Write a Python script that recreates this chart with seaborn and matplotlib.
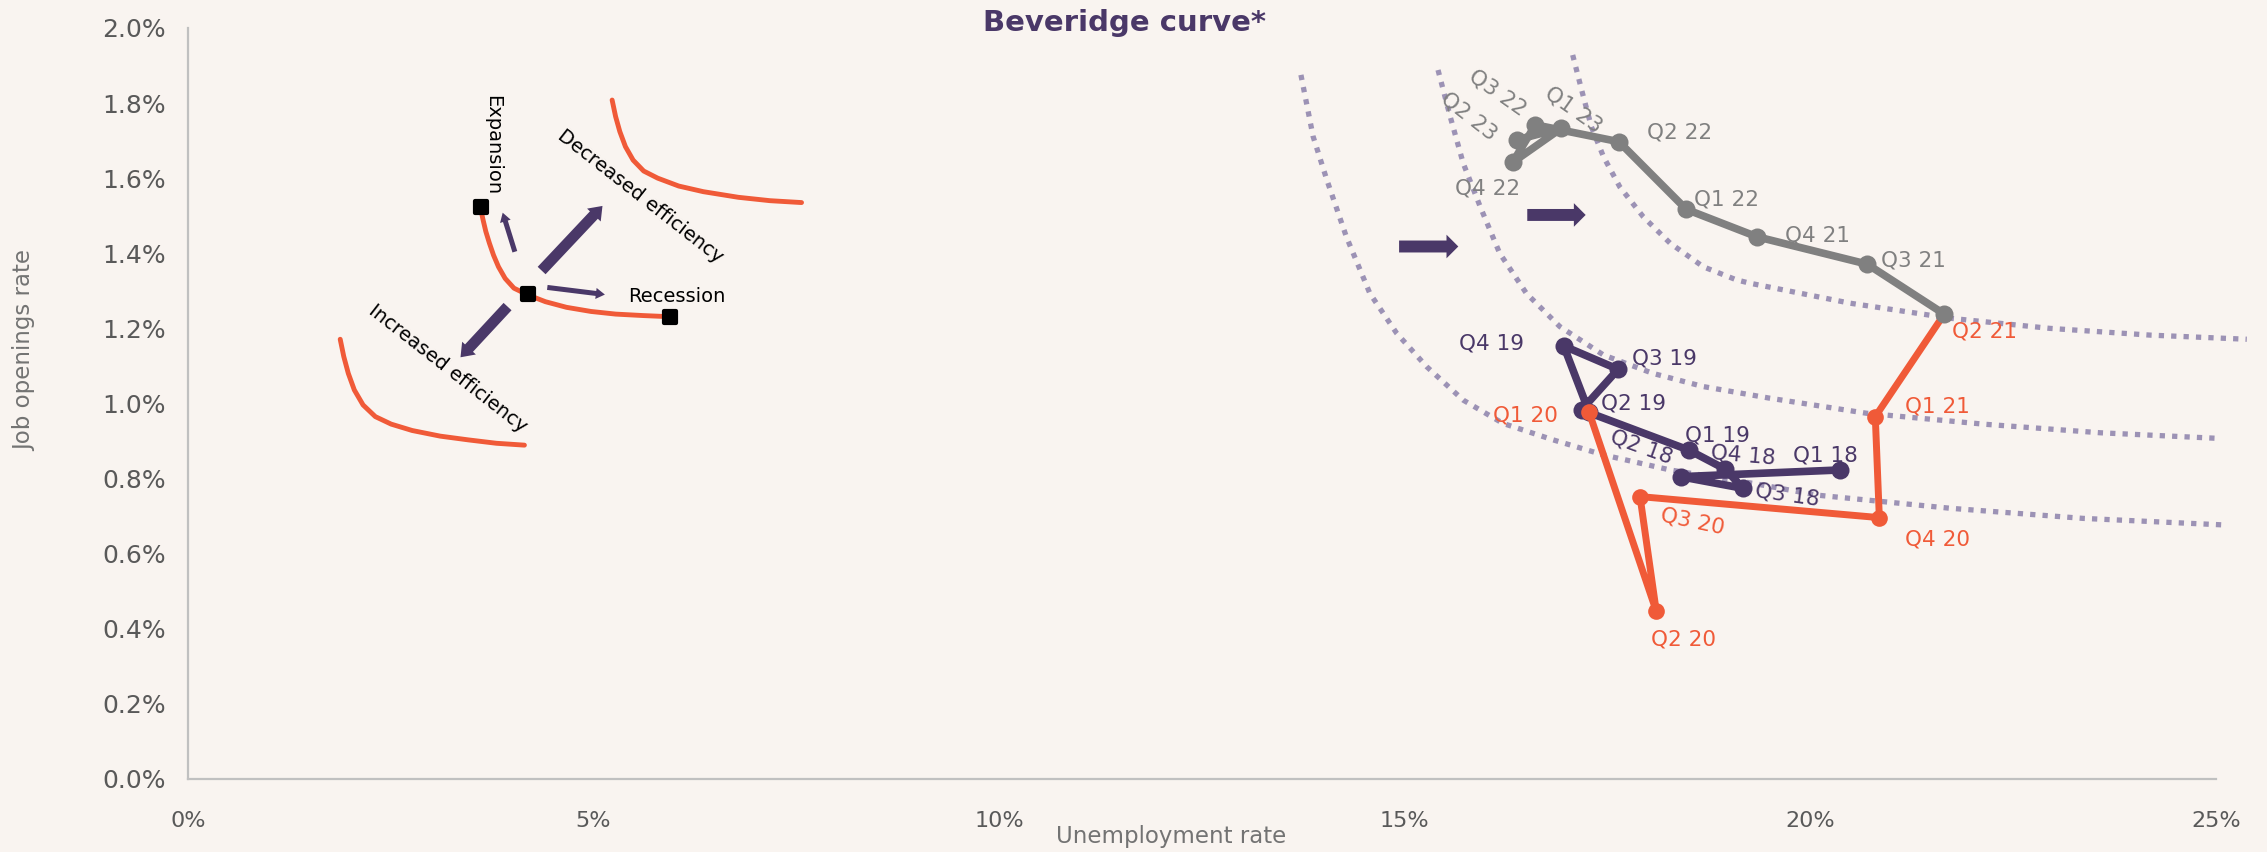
import matplotlib
matplotlib.use("Agg")
import matplotlib.pyplot as plt
from matplotlib.markers import MarkerStyle
from matplotlib.ticker import FuncFormatter, MultipleLocator
import seaborn as sns

# Beveridge curve path: unemployment rate (%) vs job openings rate (%)
pre_quarters = ["Q1 18", "Q2 18", "Q3 18", "Q4 18", "Q1 19", "Q2 19", "Q3 19", "Q4 19", "Q1 20"]
pre_unemp = [20.37, 18.40, 19.17, 18.95, 18.50, 17.18, 17.63, 16.96, 17.27]
pre_vac = [0.823, 0.805, 0.774, 0.825, 0.876, 0.983, 1.091, 1.153, 0.978]

covid_quarters = ["Q1 20", "Q2 20", "Q3 20", "Q4 20", "Q1 21", "Q2 21"]
covid_unemp = [17.27, 18.10, 17.90, 20.85, 20.80, 21.65]
covid_vac = [0.978, 0.447, 0.752, 0.696, 0.965, 1.238]

post_quarters = ["Q2 21", "Q3 21", "Q4 21", "Q1 22", "Q2 22", "Q3 22", "Q4 22", "Q1 23", "Q2 23"]
post_unemp = [21.65, 20.70, 19.34, 18.47, 17.64, 16.61, 16.33, 16.93, 16.38]
post_vac = [1.238, 1.371, 1.444, 1.517, 1.697, 1.742, 1.642, 1.733, 1.702]

# dotted reference curves
curve1_x = [13.72, 13.87, 14.04, 14.28, 14.57, 14.90, 15.27, 15.72, 16.21, 16.83, 17.45, 18.27, 19.30, 20.08, 21.72, 23.36, 25.15]
curve1_y = [1.875, 1.711, 1.595, 1.444, 1.293, 1.187, 1.098, 1.009, 0.947, 0.903, 0.863, 0.823, 0.787, 0.756, 0.721, 0.694, 0.676]
curve2_x = [15.41, 15.56, 15.72, 15.93, 16.17, 16.50, 16.91, 17.45, 18.06, 18.68, 19.50, 20.69, 22.13, 23.57, 25.03]
curve2_y = [1.888, 1.764, 1.640, 1.524, 1.400, 1.293, 1.205, 1.129, 1.080, 1.045, 1.014, 0.974, 0.945, 0.922, 0.907]
curve3_x = [17.07, 17.18, 17.30, 17.45, 17.65, 17.94, 18.27, 18.68, 19.09, 19.26, 20.49, 21.72, 22.95, 24.19, 25.38]
curve3_y = [1.928, 1.835, 1.737, 1.657, 1.577, 1.497, 1.427, 1.364, 1.329, 1.320, 1.267, 1.227, 1.200, 1.182, 1.171]

# schematic on the left
mid_x = [3.607, 3.638, 3.672, 3.716, 3.767, 3.828, 3.910, 4.019, 4.191, 4.407, 4.667, 4.969, 5.272, 5.618, 5.942]
mid_y = [1.520, 1.489, 1.458, 1.427, 1.395, 1.364, 1.333, 1.307, 1.289, 1.271, 1.256, 1.245, 1.238, 1.234, 1.231]
upper_x = [5.229, 5.272, 5.324, 5.393, 5.488, 5.618, 5.791, 6.050, 6.353, 6.785, 7.175, 7.564]
upper_y = [1.808, 1.764, 1.724, 1.684, 1.648, 1.619, 1.600, 1.579, 1.564, 1.549, 1.540, 1.535]
lower_x = [1.877, 1.921, 1.977, 2.051, 2.159, 2.310, 2.505, 2.764, 3.110, 3.457, 3.802, 4.148]
lower_y = [1.171, 1.125, 1.080, 1.036, 0.996, 0.965, 0.945, 0.928, 0.913, 0.903, 0.894, 0.889]
dot_x = [3.61, 4.19, 5.94]
dot_y = [1.522, 1.291, 1.231]

# arrows: (tail x, tail y, tip x, tip y)
shift_arrows = [(14.93, 1.418, 15.66, 1.418), (16.51, 1.502, 17.23, 1.502)]
thin_arrows = [(4.03, 1.404, 3.88, 1.508), (4.43, 1.309, 5.14, 1.290)]
thick_arrows = [(4.36, 1.354, 5.11, 1.526), (3.94, 1.258, 3.36, 1.123)]

schema_texts = ["Expansion", "Decreased efficiency", "Recession", "Increased efficiency"]
schema_text_x = [3.75, 5.58, 6.03, 3.20]
schema_text_y = [1.688, 1.551, 1.284, 1.094]
schema_text_rot = [-90, -38, 0, -38]

# label offsets in points: (dx, dy, rotation)
label_offsets = {
    "Q1 18": (-10.6, 10.3, 0), "Q2 18": (-28, 21, -20), "Q3 18": (32, -4.8, -8),
    "Q4 18": (13, 9.6, -5), "Q1 19": (20.4, 10.8, 0), "Q2 19": (37, 4.8, 0),
    "Q3 19": (33.6, 7.9, 0), "Q4 19": (-52, 1.9, 0),
    "Q1 20": (-45.9, -2.4, 0), "Q2 20": (19.7, -20.4, 0), "Q3 20": (38, -18, -12),
    "Q4 20": (41.8, -15.6, 0), "Q1 21": (44.6, 7.2, 0), "Q2 21": (28.8, -12.7, 0),
    "Q3 21": (33.6, 2.9, 0), "Q4 21": (43.5, 1.2, 0), "Q1 22": (29.2, 7.2, 0),
    "Q2 22": (43.9, 6.5, 0), "Q3 22": (-27.6, 22.8, -35), "Q4 22": (-18.3, -18.7, 0),
    "Q1 23": (8.4, 13.2, -35), "Q2 23": (-34.8, 16.8, -38),
}

bg = "#f9f4f0"
purple = "#4a3868"
orange = "#f05a38"
grey = "#808080"
dotted = "#9c92b5"

sns.set_theme(style="white")
plt.rcParams["font.family"] = ["DejaVu Sans"]

fig = plt.figure(figsize=(22.67, 8.52), dpi=100, facecolor=bg)
ax = fig.add_axes([0.0829, 0.0857, 0.8946, 0.8815], facecolor=bg)

for cx, cy in [(curve1_x, curve1_y), (curve2_x, curve2_y), (curve3_x, curve3_y)]:
    sns.lineplot(x=cx, y=cy, sort=False, estimator=None, color=dotted, lw=3.8,
                 dashes=False, ax=ax, clip_on=False)
for line in ax.get_lines():
    line.set_dashes([1, 1.35])
    line.set_dash_capstyle("butt")
    line.set_solid_joinstyle("round")

sns.lineplot(x=pre_unemp, y=pre_vac, sort=False, estimator=None, color=purple, lw=5.5,
             marker="o", markersize=13, markeredgewidth=0, ax=ax)
sns.lineplot(x=covid_unemp, y=covid_vac, sort=False, estimator=None, color=orange, lw=5,
             marker="o", markersize=12, markeredgewidth=0, ax=ax)
sns.lineplot(x=post_unemp, y=post_vac, sort=False, estimator=None, color=grey, lw=5.5,
             marker="o", markersize=13, markeredgewidth=0, ax=ax)

def put_labels(quarters, xs, ys, color, skip=()):
    for q, x, y in zip(quarters, xs, ys):
        if q in skip:
            continue
        dx, dy, rot = label_offsets[q]
        ax.annotate(q, (x, y), xytext=(dx, dy), textcoords="offset points",
                    ha="center", va="center", rotation=rot, rotation_mode="anchor",
                    fontsize=15.5, color=color)

put_labels(pre_quarters, pre_unemp, pre_vac, purple, skip=("Q1 20",))
put_labels(covid_quarters, covid_unemp, covid_vac, orange)
put_labels(post_quarters, post_unemp, post_vac, grey, skip=("Q2 21",))

# schematic
for cx, cy in [(mid_x, mid_y), (upper_x, upper_y), (lower_x, lower_y)]:
    sns.lineplot(x=cx, y=cy, sort=False, estimator=None, color=orange, lw=3.5, ax=ax)
ax.plot(dot_x, dot_y, linestyle="none", marker=MarkerStyle("s", joinstyle="round"),
        markersize=8, markerfacecolor="black", markeredgecolor="black", markeredgewidth=3)

def draw_arrows(arrows, style):
    for x0, y0, x1, y1 in arrows:
        ax.annotate("", xy=(x1, y1), xytext=(x0, y0),
                    arrowprops=dict(arrowstyle=style, color=purple, lw=0,
                                    mutation_scale=1, shrinkA=0, shrinkB=0))

draw_arrows(shift_arrows, "simple,head_length=8.5,head_width=17,tail_width=8.6")
draw_arrows(thin_arrows, "simple,head_length=6.5,head_width=8,tail_width=3.6")
draw_arrows(thick_arrows, "simple,head_length=9,head_width=13.5,tail_width=7.8")

for t, x, y, r in zip(schema_texts, schema_text_x, schema_text_y, schema_text_rot):
    ax.text(x, y, t, ha="center", va="center", rotation=r, rotation_mode="anchor",
            fontsize=14, color="black")

# axes styling
ax.set_xlim(0, 25)
ax.set_ylim(0, 2.0)
ax.xaxis.set_major_locator(MultipleLocator(5))
ax.yaxis.set_major_locator(MultipleLocator(0.2))
ax.xaxis.set_major_formatter(FuncFormatter(lambda v, p: f"{v:.0f}%"))
ax.yaxis.set_major_formatter(FuncFormatter(lambda v, p: f"{v:.1f}%"))
ax.tick_params(axis="x", length=0, pad=23, labelsize=16, labelcolor="#595959")
ax.tick_params(axis="y", length=0, pad=16, labelsize=18, labelcolor="#595959")
for side in ["top", "right"]:
    ax.spines[side].set_visible(False)
for side in ["left", "bottom"]:
    ax.spines[side].set_color("#c0c0c0")
    ax.spines[side].set_linewidth(1.6)

ax.set_xlabel("Unemployment rate", fontsize=16.5, color="#737373")
ax.set_ylabel("Job openings rate", fontsize=16.5, color="#737373")
ax.xaxis.set_label_coords(0.485, -0.061)
ax.yaxis.set_label_coords(-0.075, 0.571)

fig.text(0.496, 0.973, "Beveridge curve*", ha="center", va="center",
         fontsize=21, fontweight="bold", color=purple)

fig.savefig("out.png", dpi=100, facecolor=bg)
